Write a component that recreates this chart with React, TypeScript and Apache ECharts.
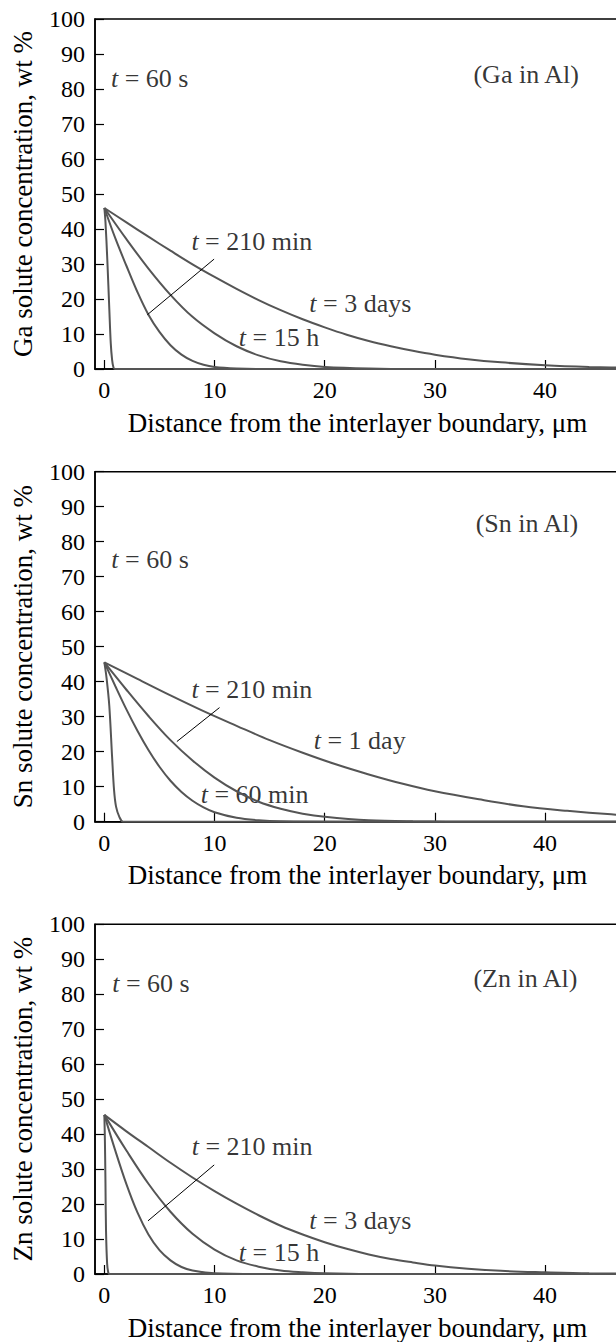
import React, { useEffect, useRef } from "react";
import * as echarts from "echarts";

const FONT = "'Liberation Serif', 'Times New Roman', Times, serif";

// Axis settings
const xTicks = [0, 10, 20, 30, 40];
const X_MIN = -0.85;
const X_MAX = 46.8;
const xAxisTitle = "Distance from the interlayer boundary, \u03bcm";

// ---------- Panel 1: Ga in Al ----------
const gaX60s = [0, 0.1, 0.27, 0.45, 0.58, 0.7, 0.82, 0.95, 2, 50];
const gaY60s = [46, 42, 31, 17, 7.4, 2.7, 0.5, 0, 0, 0];
const gaX210 = [0, 1, 2, 3, 4, 5, 6, 7, 8, 9, 10, 12, 14, 20, 50];
const gaY210 = [46, 37.3, 29.5, 22, 15.5, 10.6, 6.8, 4.1, 2.3, 1.2, 0.6, 0.15, 0, 0, 0];
const gaX15h = [0, 2, 4, 6, 8, 10, 12, 14, 16, 18, 20, 24, 28, 34, 50];
const gaY15h = [46, 37.1, 28.7, 21.2, 14.9, 10.2, 6.5, 3.9, 2.2, 1.2, 0.6, 0.15, 0, 0, 0];
const gaX3d = [0, 2, 4, 6, 8, 10, 12, 14, 16, 18, 20, 22, 24, 26, 28, 30, 33, 36, 40, 44, 48, 50];
const gaY3d = [46, 41.9, 37.8, 33.8, 29.9, 26.3, 22.9, 19.7, 16.8, 14.2, 11.9, 9.8, 8.0, 6.5, 5.2, 4.1, 2.8, 1.9, 1.1, 0.6, 0.3, 0.2];
const gaLabelText = ["t = 60 s", "(Ga in Al)", "t = 210 min", "t = 3 days", "t = 15 h"];
const gaLabelX = [0.6, 33.5, 7.9, 18.6, 12.2];
const gaLabelY = [82.9, 84.1, 36.5, 18.7, 9.0];
const gaLeaderX = [9.96, 3.9];
const gaLeaderY = [31.4, 15.5];

// ---------- Panel 2: Sn in Al ----------
const snX60s = [0, 0.2, 0.45, 0.7, 0.88, 1.06, 1.36, 1.7, 3, 50];
const snY60s = [45.5, 41, 33, 18.6, 9, 4.3, 1.4, 0, 0, 0];
const snX60m = [0, 1, 2, 3, 4, 5, 6, 7, 8, 9, 10, 12, 14, 16, 22, 50];
const snY60m = [45.5, 38.7, 32.1, 26.0, 20.5, 15.7, 11.7, 8.5, 6.0, 4.1, 2.7, 1.1, 0.4, 0.1, 0, 0];
const snX210 = [0, 2, 4, 6, 8, 10, 12, 14, 16, 18, 20, 24, 28, 34, 50];
const snY210 = [45.5, 37.7, 30.2, 23.3, 17.5, 12.6, 8.7, 5.7, 3.7, 2.3, 1.4, 0.4, 0.1, 0, 0];
const snX1d = [0, 3, 6, 9, 12, 15, 18, 21, 24, 27, 30, 34, 38, 42, 46, 50];
const snY1d = [45.5, 40.8, 36.1, 31.6, 27.4, 23.3, 19.7, 16.4, 13.5, 10.9, 8.7, 6.4, 4.4, 3.1, 2.1, 1.4];
const snLabelText = ["t = 60 s", "(Sn in Al)", "t = 210 min", "t = 1 day", "t = 60 min"];
const snLabelX = [0.63, 33.7, 7.9, 19.0, 8.74];
const snLabelY = [74.8, 85.3, 37.8, 23.3, 7.9];
const snLeaderX = [10.45, 6.58];
const snLeaderY = [32.6, 22.9];

// ---------- Panel 3: Zn in Al ----------
const znX60s = [0, 0.05, 0.1, 0.15, 0.25, 0.35, 0.45, 1.5, 50];
const znY60s = [45.5, 38, 26, 12.4, 3, 0.5, 0, 0, 0];
const znX210 = [0, 1, 2, 3, 4, 5, 6, 7, 8, 10, 14, 50];
const znY210 = [45.5, 35.2, 25.7, 17.6, 11.3, 6.8, 3.9, 2.0, 1.0, 0.2, 0, 0];
const znX15h = [0, 2, 4, 6, 8, 10, 12, 14, 16, 18, 20, 24, 30, 50];
const znY15h = [45.5, 35.3, 25.8, 17.8, 11.5, 7.0, 3.9, 2.1, 1.0, 0.5, 0.2, 0, 0, 0];
const znX3d = [0, 2, 4, 6, 8, 10, 12, 14, 16, 18, 20, 22, 24, 26, 28, 30, 33, 36, 40, 44, 50];
const znY3d = [45.5, 40.8, 36.3, 31.8, 27.6, 23.7, 20.1, 16.8, 13.8, 11.3, 9.1, 7.2, 5.6, 4.3, 3.3, 2.4, 1.5, 0.9, 0.5, 0.2, 0.05];
const znLabelText = ["t = 60 s", "(Zn in Al)", "t = 210 min", "t = 3 days", "t = 15 h"];
const znLabelX = [0.71, 33.5, 7.93, 18.6, 12.2];
const znLabelY = [83.0, 84.6, 36.4, 15.2, 6.2];
const znLeaderX = [9.97, 3.96];
const znLeaderY = [31.2, 15.2];

const zip = (xs: number[], ys: number[]) => xs.map((x, i) => [x, ys[i]]);

const panels = [
  {
    top: 19,
    yName: "Ga solute concentration, wt %",
    curves: [zip(gaX60s, gaY60s), zip(gaX210, gaY210), zip(gaX15h, gaY15h), zip(gaX3d, gaY3d)],
    labels: gaLabelText.map((t, i) => ({ t, x: gaLabelX[i], y: gaLabelY[i] })),
    leader: zip(gaLeaderX, gaLeaderY),
  },
  {
    top: 471.7,
    yName: "Sn solute concentration, wt %",
    curves: [zip(snX60s, snY60s), zip(snX60m, snY60m), zip(snX210, snY210), zip(snX1d, snY1d)],
    labels: snLabelText.map((t, i) => ({ t, x: snLabelX[i], y: snLabelY[i] })),
    leader: zip(snLeaderX, snLeaderY),
  },
  {
    top: 924.3,
    yName: "Zn solute concentration, wt %",
    curves: [zip(znX60s, znY60s), zip(znX210, znY210), zip(znX15h, znY15h), zip(znX3d, znY3d)],
    labels: znLabelText.map((t, i) => ({ t, x: znLabelX[i], y: znLabelY[i] })),
    leader: zip(znLeaderX, znLeaderY),
  },
];

export default function App() {
  const ref = useRef<HTMLDivElement>(null);
  useEffect(() => {
    if (!ref.current) return;
    const chart = echarts.init(ref.current, null, { renderer: "svg" });
    const grids: any[] = [];
    const xAxes: any[] = [];
    const yAxes: any[] = [];
    const series: any[] = [];
    const labelFont = { color: "#000", fontFamily: FONT, fontSize: 24 };

    panels.forEach((p, i) => {
      grids.push({
        left: 95,
        top: p.top,
        width: 525,
        height: 350,
        show: true,
        borderColor: "#000",
        borderWidth: 1.5,
        backgroundColor: "transparent",
      });
      xAxes.push({
        type: "value",
        gridIndex: i,
        min: X_MIN,
        max: X_MAX,
        axisLine: { show: true, onZero: false, lineStyle: { color: "#000", width: 1.5 } },
        axisTick: { show: true, inside: true, length: 9, customValues: xTicks, lineStyle: { color: "#000", width: 1.2 } },
        axisLabel: { ...labelFont, margin: 9, customValues: xTicks },
        splitLine: { show: false },
        name: xAxisTitle,
        nameLocation: "middle",
        nameGap: 40,
        nameTextStyle: { color: "#000", fontFamily: FONT, fontSize: 27 },
      });
      yAxes.push({
        type: "value",
        gridIndex: i,
        min: 0,
        max: 100,
        interval: 10,
        axisLine: { show: true, onZero: false, lineStyle: { color: "#000", width: 1.5 } },
        axisTick: { show: true, inside: true, length: 9, lineStyle: { color: "#000", width: 1.2 } },
        axisLabel: { ...labelFont, margin: 10 },
        splitLine: { show: false },
        name: p.yName,
        nameLocation: "middle",
        nameGap: 59,
        nameTextStyle: { color: "#000", fontFamily: FONT, fontSize: 27 },
      });
      p.curves.forEach((c) => {
        series.push({
          type: "line",
          xAxisIndex: i,
          yAxisIndex: i,
          data: c,
          showSymbol: false,
          smooth: 0.35,
          clip: true,
          silent: true,
          lineStyle: { color: "#555", width: 2 },
        });
      });
      series.push({
        type: "line",
        xAxisIndex: i,
        yAxisIndex: i,
        data: p.leader,
        showSymbol: false,
        silent: true,
        lineStyle: { color: "#000", width: 1 },
      });
      series.push({
        type: "scatter",
        xAxisIndex: i,
        yAxisIndex: i,
        symbolSize: 0,
        silent: true,
        data: p.labels.map((l) => ({
          value: [l.x, l.y],
          label: {
            show: true,
            position: "right",
            distance: 0,
            formatter: l.t.startsWith("t ") ? "{i|t}" + l.t.slice(1) : l.t,
            color: "#000",
            fontFamily: FONT,
            fontSize: 26,
            rich: {
              i: { fontStyle: "italic", color: "#000", fontFamily: FONT, fontSize: 26 },
            },
          },
        })),
      });
    });

    chart.setOption({
      animation: false,
      backgroundColor: "#fff",
      grid: grids,
      xAxis: xAxes,
      yAxis: yAxes,
      series,
    });
    return () => chart.dispose();
  }, []);

  return (
    <div style={{ position: "absolute", left: 0, top: 0, width: 616, height: 1342, overflow: "hidden", background: "#fff" }}>
      <div ref={ref} style={{ width: 640, height: 1342 }} />
    </div>
  );
}
